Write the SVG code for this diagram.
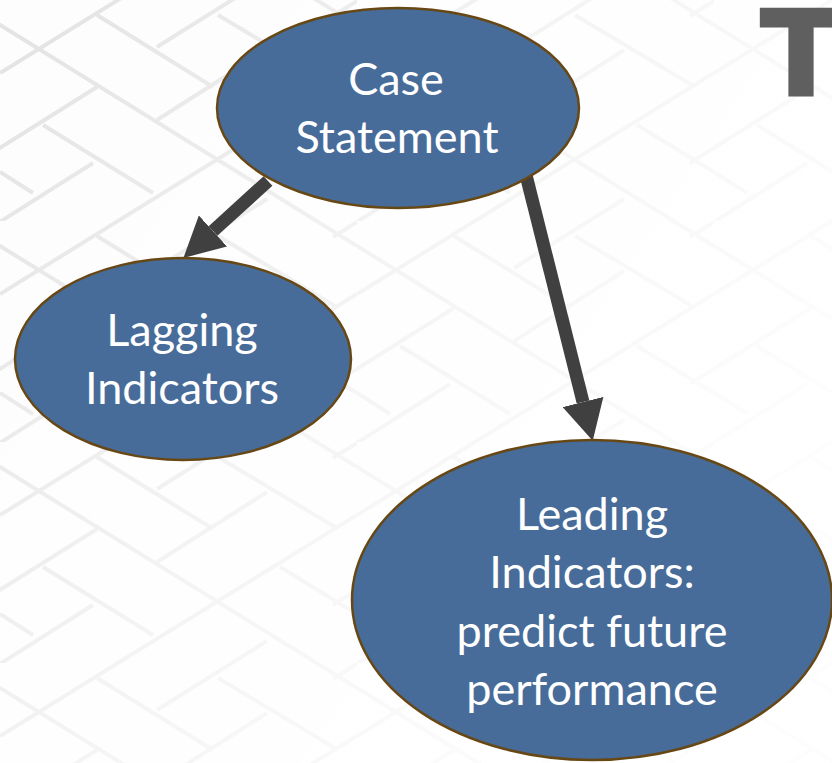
<svg xmlns="http://www.w3.org/2000/svg" width="832" height="763" viewBox="0 0 832 763">
<style>
.node{fill:#476c99;stroke:#674814;stroke-width:2.5}
.label{font-family:"Lato","Open Sans",sans-serif;font-size:45px;fill:#fff;text-anchor:middle}
.conn{stroke:#404040;stroke-width:13;fill:none}
.brick{stroke:#e4e4e4;stroke-width:4;fill:none}
</style>
<defs>
<filter id="soft" x="0" y="0" width="1" height="1"><feGaussianBlur stdDeviation="0.7"/></filter>
<marker id="head" markerUnits="userSpaceOnUse" markerWidth="40" markerHeight="42" refX="0" refY="21" orient="auto" viewBox="0 0 40 42"><path d="M0,0L40,21L0,42Z" fill="#404040"/></marker>
<pattern id="bg" patternUnits="userSpaceOnUse" width="357" height="221">
<path class="brick" d="M-357,-196L357,246M0,-196L357,25M0,25L357,246M-357,25L0,246
M0,73L357,-148M0,294L357,73M357,294L714,73M-357,73L0,294
M-24,163L97,87M333,163L357,148M333,384L357,369M-24,237L93,163M333,237L357,222M333,16L357,1
M157,47L267,-22M157,268L267,199M157,120L267,50
M97,15L213,87M218,15L335,85
M43,125L153,193M280,125L357,172M0,172L33,193"/>
</pattern>
<linearGradient id="fade" gradientUnits="userSpaceOnUse" x1="0" y1="100" x2="700" y2="560">
<stop offset="0" stop-color="#fff" stop-opacity="0"/>
<stop offset="0.5" stop-color="#fff" stop-opacity="0.6"/>
<stop offset="1" stop-color="#fff" stop-opacity="0.92"/>
</linearGradient>
</defs>
<rect id="background" width="832" height="763" fill="#fdfdfd"/>
<rect width="832" height="763" fill="url(#bg)" filter="url(#soft)"/>
<rect width="832" height="763" fill="url(#fade)"/>
<text id="cropped-title" x="801" y="95" font-family="DejaVu Sans" font-weight="bold" font-size="118" text-anchor="middle" fill="#5f5f5f" stroke="#5f5f5f" stroke-width="3">T</text>
<g id="connectors">
<line class="conn" x1="268" y1="181" x2="213" y2="231" marker-end="url(#head)"/>
<line class="conn" x1="526" y1="175" x2="583" y2="402" marker-end="url(#head)"/>
</g>
<g id="case-statement">
<ellipse class="node" cx="398" cy="108" rx="181" ry="100"/>
<text class="label" x="396" y="95">Case</text>
<text class="label" x="397" y="153">Statement</text>
</g>
<g id="lagging-indicators">
<ellipse class="node" cx="183" cy="359" rx="168" ry="101"/>
<text class="label" x="182" y="346">Lagging</text>
<text class="label" x="182" y="404">Indicators</text>
</g>
<g id="leading-indicators">
<ellipse class="node" cx="592" cy="600" rx="240" ry="160"/>
<text class="label" x="592" y="530">Leading</text>
<text class="label" x="592" y="588">Indicators:</text>
<text class="label" x="592" y="647">predict future</text>
<text class="label" x="592" y="705">performance</text>
</g>
</svg>
